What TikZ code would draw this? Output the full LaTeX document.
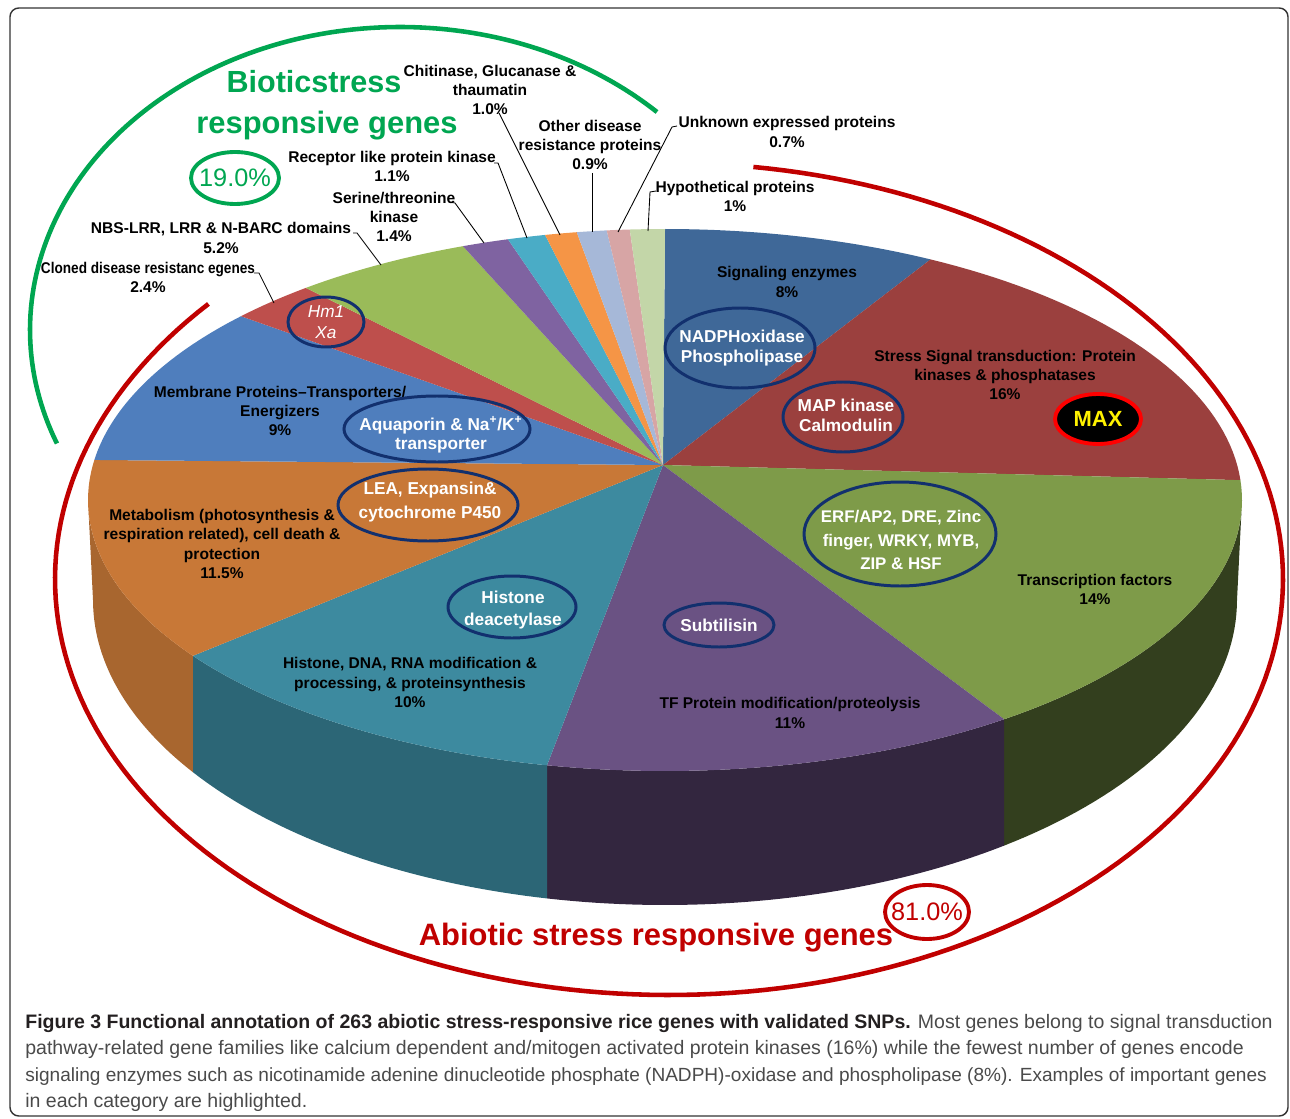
\documentclass[tikz,border=0pt]{standalone}
\usepackage{fontspec}
\setmainfont{Liberation Sans}
\newfontfamily\narrowsans{Liberation Sans}[FakeStretch=0.875]
\usetikzlibrary{calc}
\definecolor{csig}{HTML}{3F6898}
\definecolor{cstress}{HTML}{9B403E}
\definecolor{ctf}{HTML}{7E9B49}
\definecolor{ctfside}{HTML}{333F1E}
\definecolor{cprot}{HTML}{6A5283}
\definecolor{cprotside}{HTML}{33263F}
\definecolor{chist}{HTML}{3D8A9F}
\definecolor{chistside}{HTML}{2C6676}
\definecolor{cmet}{HTML}{C87837}
\definecolor{cmetside}{HTML}{A8662F}
\definecolor{cmem}{HTML}{4F7EBD}
\definecolor{cclon}{HTML}{BE4F4C}
\definecolor{cnbs}{HTML}{9ABB59}
\definecolor{cser}{HTML}{7F63A1}
\definecolor{crec}{HTML}{4AACC6}
\definecolor{cchi}{HTML}{F59546}
\definecolor{coth}{HTML}{A6B8D8}
\definecolor{cunk}{HTML}{D7A5A5}
\definecolor{chyp}{HTML}{C3D6A8}
\definecolor{navy}{HTML}{12306E}
\definecolor{bgreen}{HTML}{00A651}
\definecolor{ared}{HTML}{C00000}
\definecolor{captxt}{HTML}{4A4A4A}
\definecolor{capbold}{HTML}{231F20}
\newcommand{\pietop}[3]{\fill[#3] (pc) -- plot[domain=#1:#2,samples=40] ({665+577*cos(\x)},{500+271*sin(\x)}) -- cycle;}
\newcommand{\pieside}[5]{\fill[#5] plot[domain=#1:#2,samples=40] ({665+577*cos(\x)},{500+271*sin(\x)}) -- plot[domain=#3:#4,samples=40] ({665+572*cos(\x)},{600+305*sin(\x)}) -- cycle;}
\begin{document}
\begin{tikzpicture}[x=0.02cm,y=-0.02cm,
  lbl/.style={font=\bfseries\fontsize{8.85}{11.05}\selectfont, align=center, inner sep=0pt, text=black},
  hl/.style={draw=navy, line width=1.7pt},
  hltext/.style={font=\bfseries\fontsize{9.8}{11.3}\selectfont, align=center, inner sep=0pt, text=white},
  ptr/.style={draw=black, line width=0.5pt},
  captext/.style={anchor=base west, inner sep=0pt, font=\fontsize{11.1}{13}\selectfont, text=captxt}]
\useasboundingbox (0,0) rectangle (1290,1118);
% frame
\draw[line width=0.8pt, draw=black!80, rounded corners=5pt] (10,8) rectangle (1288,1116);
% apex
\coordinate (pc) at (663,465);
% sides
\pieside{0}{54}{53.63}{0}{ctfside}
\pieside{54}{101.8}{101.9}{53.63}{cprotside}
\pieside{101.8}{144.9}{145.62}{101.9}{chistside}
\pieside{144.9}{180}{180}{145.62}{cmetside}
% top faces
\pietop{270}{297.4}{csig}
\pietop{297.4}{355.8}{cstress}
\pietop{355.8}{414}{ctf}
\pietop{54}{101.8}{cprot}
\pietop{101.8}{144.9}{chist}
\pietop{144.9}{188.5}{cmet}
\pietop{188.5}{222.7}{cmem}
\pietop{222.7}{231.5}{cclon}
\pietop{231.5}{249.5}{cnbs}
\pietop{249.5}{254.2}{cser}
\pietop{254.2}{258}{crec}
\pietop{258}{261.2}{cchi}
\pietop{261.2}{264.2}{coth}
\pietop{264.2}{266.5}{cunk}
\pietop{266.5}{270}{chyp}
% big arcs
\draw[bgreen, line width=2.6pt] plot[domain=158:314,samples=120] ({400+370*cos(\x)},{330+303*sin(\x)});
\draw[ared, line width=2.6pt] plot[domain=277.9:581.4,samples=200] ({669+614*cos(\x)},{579+416*sin(\x)});
% titles
\node[inner sep=0pt, text=bgreen, font=\bfseries\fontsize{17.4}{20}\selectfont] (bio1) at (314,82) {Bioticstress};
\node[inner sep=0pt, text=bgreen, font=\bfseries\fontsize{17.6}{20}\selectfont] (bio2) at (327,126) {responsive genes};
\coordinate (e19) at (235,178);
\draw[bgreen, line width=2.2pt] (e19) ellipse [x radius=44, y radius=26];
\node[inner sep=0pt, text=bgreen, font=\fontsize{14.4}{16}\selectfont] (t19) at (e19) {19.0\%};
\node[inner sep=0pt, text=ared, font=\bfseries\fontsize{17.6}{20}\selectfont] (abio) at (656,938) {Abiotic stress responsive genes};
\coordinate (e81) at (927,912);
\draw[ared, line width=2.2pt] (e81) ellipse [x radius=42, y radius=27];
\node[inner sep=0pt, text=ared, font=\fontsize{14.4}{16}\selectfont] (t81) at (e81) {81.0\%};
% outside labels
\node[lbl] (chi) at (490,90) {Chitinase, Glucanase \&\\thaumatin\\1.0\%};
\node[lbl] (oth) at (590,145) {Other disease\\resistance proteins\\0.9\%};
\node[lbl] (unk) at (787,132) {Unknown expressed proteins\\0.7\%};
\node[lbl] (hyp) at (735,196.5) {Hypothetical proteins\\1\%};
\node[lbl] (rec) at (392,166.5) {Receptor like protein kinase\\1.1\%};
\node[lbl] (ser) at (394,217) {Serine/threonine\\kinase\\1.4\%};
\node[lbl] (nbs) at (221,238) {NBS-LRR, LRR \& N-BARC domains\\5.2\%};
\node[lbl, font=\narrowsans\bfseries\fontsize{8.85}{11.05}\selectfont] (clo) at (148,277.5) {Cloned disease resistanc egenes\\\fontspec{Liberation Sans}\bfseries 2.4\%};
% pointers
\coordinate (p1a) at (254,273); \coordinate (p1b) at (259,273); \coordinate (p1c) at (274,303);
\draw[ptr] (p1a) -- (p1b) -- (p1c);
\coordinate (p2a) at (353,233); \coordinate (p2b) at (357,233); \coordinate (p2c) at (381,265);
\draw[ptr] (p2a) -- (p2b) -- (p2c);
\coordinate (p3a) at (449,202); \coordinate (p3b) at (455,203); \coordinate (p3c) at (484,243);
\draw[ptr] (p3a) -- (p3b) -- (p3c);
\coordinate (p4a) at (494,163); \coordinate (p4b) at (498,163); \coordinate (p4c) at (527,238);
\draw[ptr] (p4a) -- (p4b) -- (p4c);
\coordinate (p5a) at (499,113); \coordinate (p5c) at (560,235);
\draw[ptr] (p5a) -- (p5c);
\coordinate (p6a) at (592,173); \coordinate (p6c) at (592,232);
\draw[ptr] (p6a) -- (p6c);
\coordinate (p7a) at (677,126); \coordinate (p7b) at (672,127); \coordinate (p7c) at (618,232);
\draw[ptr] (p7a) -- (p7b) -- (p7c);
\coordinate (p8a) at (656,191); \coordinate (p8b) at (650,192); \coordinate (p8c) at (648,231);
\draw[ptr] (p8a) -- (p8b) -- (p8c);
% inside labels
\node[lbl] (sig) at (787,282) {Signaling enzymes\\8\%};
\node[lbl] (str) at (1005,375) {Stress Signal transduction: Protein\\kinases \& phosphatases\\16\%};
\node[lbl] (mem) at (280,411) {Membrane Proteins--Transporters/\\Energizers\\9\%};
\node[lbl] (met) at (222,544) {Metabolism (photosynthesis \&\\respiration related), cell death \&\\protection\\11.5\%};
\node[lbl] (tfa) at (1095,589.5) {Transcription factors\\14\%};
\node[lbl] (his) at (410,682.5) {Histone, DNA, RNA modification \&\\processing, \& proteinsynthesis\\10\%};
\node[lbl] (tfp) at (790,713) {TF Protein modification/proteolysis\\11\%};
% highlight ellipses
\coordinate (eHm) at (326,322);
\draw[hl] (eHm) ellipse [x radius=38, y radius=25];
\node[inner sep=0pt, text=white, align=center, font=\itshape\fontsize{9.8}{11.8}\selectfont] (tHm) at (eHm) {Hm1\\Xa};
\coordinate (eNA) at (740,348);
\draw[hl] (eNA) ellipse [x radius=75, y radius=40];
\node[hltext] (tNA) at (742,348) {NADPHoxidase\\Phospholipase};
\coordinate (eMAP) at (843,417);
\draw[hl] (eMAP) ellipse [x radius=60, y radius=35];
\node[hltext] (tMAP) at (846,415) {MAP kinase\\Calmodulin};
\coordinate (eMAX) at (1098,419);
\draw[draw=red, fill=black, line width=2.2pt] (eMAX) ellipse [x radius=43, y radius=25];
\node[inner sep=0pt, text=yellow, font=\bfseries\fontsize{12.5}{14}\selectfont] (tMAX) at (eMAX) {MAX};
\coordinate (eAQ) at (437,429);
\draw[hl] (eAQ) ellipse [x radius=93, y radius=33];
\node[hltext] (tAQ) at (441,435) {Aquaporin \& Na\textsuperscript{+}/K\textsuperscript{+}\\transporter};
\coordinate (eLEA) at (428,505);
\draw[hl] (eLEA) ellipse [x radius=90, y radius=36];
\node[hltext, font=\bfseries\fontsize{9.8}{14}\selectfont] (tLEA) at (430,502) {LEA, Expansin\&\\cytochrome P450};
\coordinate (eERF) at (900,534);
\draw[hl] (eERF) ellipse [x radius=96, y radius=52];
\node[hltext, font=\bfseries\fontsize{9.6}{13.3}\selectfont] (tERF) at (901,540) {ERF/AP2, DRE, Zinc\\finger, WRKY, MYB,\\ZIP \& HSF};
\coordinate (eHD) at (512,607);
\draw[hl] (eHD) ellipse [x radius=64, y radius=31];
\node[hltext, font=\bfseries\fontsize{9.8}{12.5}\selectfont] (tHD) at (513,610) {Histone\\deacetylase};
\coordinate (eSub) at (719,625);
\draw[hl] (eSub) ellipse [x radius=55, y radius=22];
\node[hltext] (tSub) at (eSub) {Subtilisin};
% caption
\node[captext] (c1) at (25,1028) {{\bfseries\color{capbold}Figure 3 Functional annotation of 263 abiotic stress-responsive rice genes with validated SNPs.} Most genes belong to signal transduction};
\node[captext] (c2) at (25,1054) {pathway-related gene families like calcium dependent and/mitogen activated protein kinases (16\%) while the fewest number of genes encode};
\node[captext, font=\fontsize{10.85}{13}\selectfont] (c3) at (25,1081) {signaling enzymes such as nicotinamide adenine dinucleotide phosphate (NADPH)-oxidase and phospholipase (8\%). Examples of important genes};
\node[captext] (c4) at (25,1107) {in each category are highlighted.};
\end{tikzpicture}
\end{document}
